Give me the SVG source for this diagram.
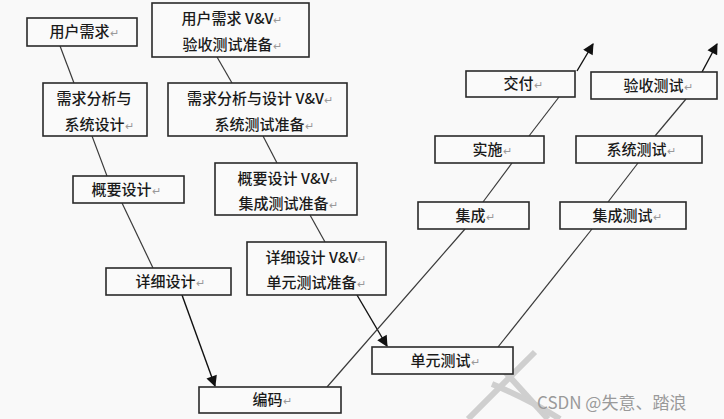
<svg xmlns="http://www.w3.org/2000/svg" width="724" height="419" viewBox="0 0 724 419" xml:lang="zh-CN">
<defs>
<marker id="arr" viewBox="0 0 10 10" refX="9" refY="5" markerWidth="12" markerHeight="11" markerUnits="userSpaceOnUse" orient="auto">
<path d="M0,0 L10,5 L0,10 z" fill="#111"/>
</marker>
<style>
.box{fill:#fafafa;stroke:#2a2a2a;stroke-width:1.6}
.t{font-family:"Noto Sans CJK SC","Noto Sans",sans-serif;font-size:15px;font-weight:500;fill:#1a1a1a;text-anchor:middle}
.r{fill:#999;font-size:11px;font-weight:400}
.c{stroke:#3a3a3a;stroke-width:1.2;fill:none}
.ca{stroke:#111;stroke-width:1.4;fill:none;marker-end:url(#arr)}
.wm{stroke:#cfcfcf;stroke-width:6;fill:none}
</style>
</defs>
<rect width="724" height="419" fill="#f9f9f9"/>
<g id="watermark">
<path class="wm" d="M487,352 L548,419"/>
<path class="wm" d="M535,352 L468,419"/>
<path class="wm" d="M492,384 Q530,400 560,419"/>
<text x="537" y="409" style="font-family:'Noto Sans CJK SC','Noto Sans',sans-serif;font-size:17px;fill:#9a9a9a">CSDN @失意、踏浪</text>
</g>
<g id="connectors">
<line class="c" x1="60" y1="46" x2="74" y2="83"/>
<line class="c" x1="217" y1="57" x2="232" y2="83"/>
<line class="c" x1="92" y1="136" x2="107" y2="176"/>
<line class="c" x1="263" y1="136" x2="277" y2="163"/>
<line class="c" x1="122" y1="203" x2="153" y2="268"/>
<line class="c" x1="310" y1="215" x2="325" y2="242"/>
<line class="ca" x1="182" y1="295" x2="215" y2="386"/>
<line class="ca" x1="357" y1="295" x2="387" y2="346"/>
<line class="c" x1="327" y1="387" x2="465" y2="229"/>
<line class="c" x1="498" y1="347" x2="592" y2="229"/>
<line class="c" x1="483" y1="202" x2="512" y2="163"/>
<line class="c" x1="608" y1="202" x2="638" y2="163"/>
<line class="c" x1="529" y1="136" x2="559" y2="97"/>
<line class="c" x1="655" y1="136" x2="686" y2="99"/>
<line class="ca" x1="577" y1="71" x2="593" y2="44"/>
<line class="ca" x1="702" y1="72" x2="717" y2="44"/>
</g>
<g id="n1"><rect class="box" x="27" y="18" width="110" height="28"/><text class="t" x="84" y="37">用户需求<tspan class="r">↵</tspan></text></g>
<g id="n2"><rect class="box" x="152" y="3" width="157" height="54"/><text class="t" x="232" y="24">用户需求 V&amp;V<tspan class="r">↵</tspan></text><text class="t" x="232" y="50">验收测试准备<tspan class="r">↵</tspan></text></g>
<g id="n3"><rect class="box" x="43" y="83" width="104" height="53"/><text class="t" x="94" y="104">需求分析与</text><text class="t" x="99" y="130">系统设计<tspan class="r">↵</tspan></text></g>
<g id="n4"><rect class="box" x="168" y="83" width="179" height="53"/><text class="t" x="260" y="104">需求分析与设计 V&amp;V<tspan class="r">↵</tspan></text><text class="t" x="264" y="130">系统测试准备<tspan class="r">↵</tspan></text></g>
<g id="n5"><rect class="box" x="73" y="176" width="111" height="27"/><text class="t" x="126" y="195">概要设计<tspan class="r">↵</tspan></text></g>
<g id="n6"><rect class="box" x="215" y="163" width="142" height="52"/><text class="t" x="288" y="184">概要设计 V&amp;V<tspan class="r">↵</tspan></text><text class="t" x="288" y="209">集成测试准备<tspan class="r">↵</tspan></text></g>
<g id="n7"><rect class="box" x="106" y="268" width="125" height="27"/><text class="t" x="170" y="287">详细设计<tspan class="r">↵</tspan></text></g>
<g id="n8"><rect class="box" x="247" y="242" width="139" height="53"/><text class="t" x="316" y="263">详细设计 V&amp;V<tspan class="r">↵</tspan></text><text class="t" x="316" y="288">单元测试准备<tspan class="r">↵</tspan></text></g>
<g id="n9"><rect class="box" x="199" y="387" width="142" height="26"/><text class="t" x="272" y="405">编码<tspan class="r">↵</tspan></text></g>
<g id="n10"><rect class="box" x="372" y="347" width="141" height="27"/><text class="t" x="445" y="366">单元测试<tspan class="r">↵</tspan></text></g>
<g id="n11"><rect class="box" x="418" y="202" width="111" height="27"/><text class="t" x="475" y="221">集成<tspan class="r">↵</tspan></text></g>
<g id="n12"><rect class="box" x="560" y="202" width="126" height="27"/><text class="t" x="627" y="221">集成测试<tspan class="r">↵</tspan></text></g>
<g id="n13"><rect class="box" x="435" y="136" width="109" height="27"/><text class="t" x="492" y="155">实施<tspan class="r">↵</tspan></text></g>
<g id="n14"><rect class="box" x="576" y="136" width="126" height="27"/><text class="t" x="641" y="155">系统测试<tspan class="r">↵</tspan></text></g>
<g id="n15"><rect class="box" x="466" y="71" width="109" height="26"/><text class="t" x="523" y="89">交付<tspan class="r">↵</tspan></text></g>
<g id="n16"><rect class="box" x="591" y="72" width="126" height="27"/><text class="t" x="658" y="91">验收测试<tspan class="r">↵</tspan></text></g>
</svg>
